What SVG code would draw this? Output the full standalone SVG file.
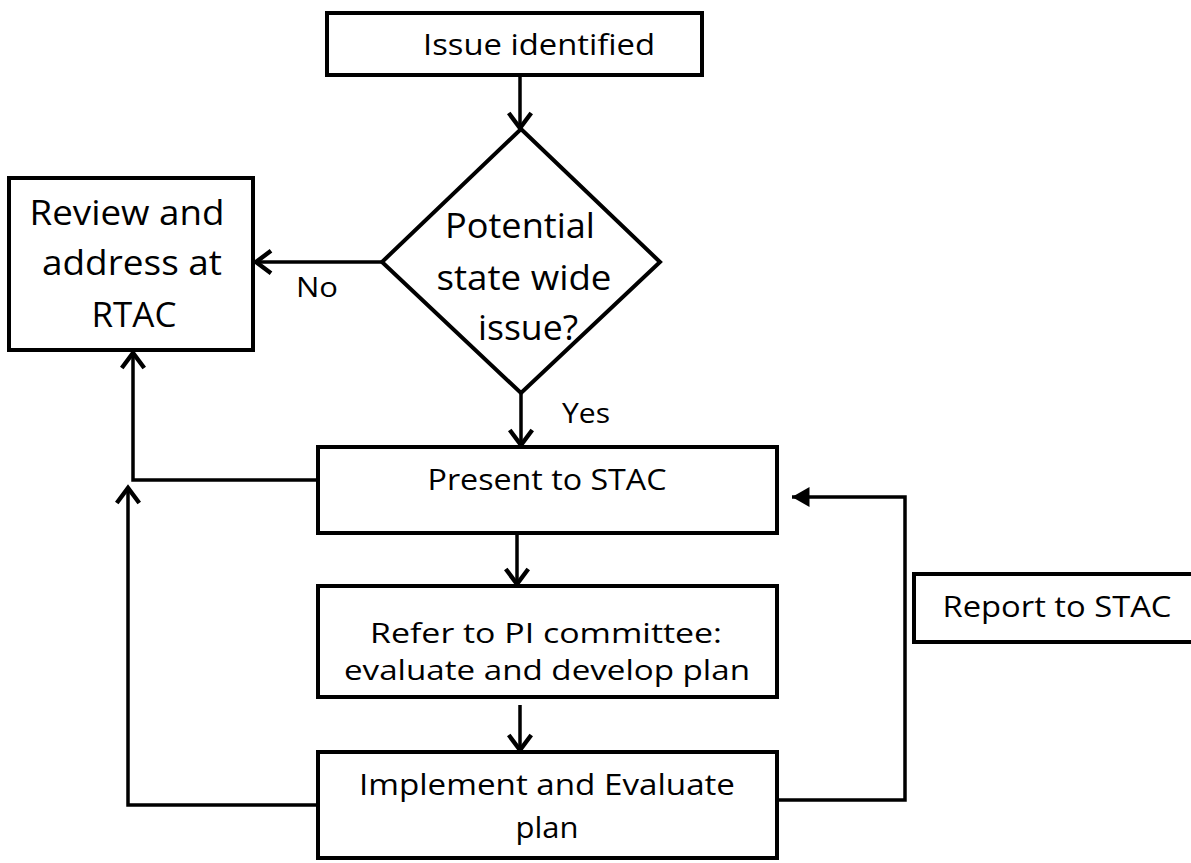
<svg xmlns="http://www.w3.org/2000/svg" width="1191" height="863" viewBox="0 0 1191 863">
<style>
.box{fill:#fff;stroke:#000;stroke-width:4}
.t{font-family:"Open Sans","Noto Sans","Liberation Sans",sans-serif;fill:#000;text-anchor:middle}
.c{fill:none;stroke:#000;stroke-width:3.5;stroke-linejoin:miter}
</style>
<defs>
<marker id="open" markerUnits="userSpaceOnUse" markerWidth="30" markerHeight="30" viewBox="-16 -12 20 24" refX="0" refY="0" orient="auto">
<path d="M -12 -9 L 0 0 L -12 9" fill="none" stroke="#000" stroke-width="3.5"/>
</marker>
<marker id="solid" markerUnits="userSpaceOnUse" markerWidth="30" markerHeight="30" viewBox="-16 -12 20 24" refX="0" refY="0" orient="auto">
<path d="M -14 -8 L 0 0 L -14 8 Z" fill="#000"/>
</marker>
</defs>
<rect width="1191" height="863" fill="#fff"/>
<g id="connectors">
<line class="c" x1="520" y1="75" x2="520" y2="128" marker-end="url(#open)"/>
<line class="c" x1="521" y1="393" x2="521" y2="445" marker-end="url(#open)"/>
<line class="c" x1="517" y1="535" x2="517" y2="584" marker-end="url(#open)"/>
<line class="c" x1="520" y1="705" x2="520" y2="750" marker-end="url(#open)"/>
<line class="c" x1="382" y1="262" x2="256" y2="262" marker-end="url(#open)"/>
<polyline class="c" points="318,480 133,480 133,353" marker-end="url(#open)"/>
<polyline class="c" points="318,805 128,805 128,488" marker-end="url(#open)"/>
<polyline class="c" points="777,800 905,800 905,497 792,497" marker-end="url(#solid)"/>
<text class="t" x="317" y="297" font-size="28" textLength="42" lengthAdjust="spacingAndGlyphs">No</text>
<text class="t" x="586" y="423" font-size="28" textLength="48" lengthAdjust="spacingAndGlyphs">Yes</text>
</g>
<g id="issue">
<rect class="box" x="327" y="13" width="375" height="62"/>
<text class="t" x="539" y="55" font-size="30" textLength="232" lengthAdjust="spacingAndGlyphs">Issue identified</text>
</g>
<g id="decision">
<polygon class="box" points="521,129 660,262 521,393 382,262"/>
<text class="t" x="520" y="238" font-size="34" textLength="150" lengthAdjust="spacingAndGlyphs">Potential</text>
<text class="t" x="524" y="290" font-size="34" textLength="175" lengthAdjust="spacingAndGlyphs">state wide</text>
<text class="t" x="528" y="340" font-size="34" textLength="100" lengthAdjust="spacingAndGlyphs">issue?</text>
</g>
<g id="review">
<rect class="box" x="9" y="178" width="244" height="172"/>
<text class="t" x="127" y="225" font-size="34" textLength="195" lengthAdjust="spacingAndGlyphs">Review and</text>
<text class="t" x="132" y="275" font-size="34" textLength="180" lengthAdjust="spacingAndGlyphs">address at</text>
<text class="t" x="134" y="327" font-size="34" textLength="85" lengthAdjust="spacingAndGlyphs">RTAC</text>
</g>
<g id="present">
<rect class="box" x="318" y="447" width="459" height="86"/>
<text class="t" x="547" y="490" font-size="30" textLength="239" lengthAdjust="spacingAndGlyphs">Present to STAC</text>
</g>
<g id="refer">
<rect class="box" x="318" y="586" width="459" height="111"/>
<text class="t" x="546" y="643" font-size="28" textLength="352" lengthAdjust="spacingAndGlyphs">Refer to PI committee:</text>
<text class="t" x="547" y="680" font-size="28" textLength="406" lengthAdjust="spacingAndGlyphs">evaluate and develop plan</text>
</g>
<g id="implement">
<rect class="box" x="318" y="752" width="459" height="106"/>
<text class="t" x="547" y="795" font-size="30" textLength="376" lengthAdjust="spacingAndGlyphs">Implement and Evaluate</text>
<text class="t" x="547" y="838" font-size="30" textLength="63" lengthAdjust="spacingAndGlyphs">plan</text>
</g>
<g id="report">
<rect class="box" x="914" y="574" width="290" height="68"/>
<text class="t" x="1057" y="617" font-size="30" textLength="229" lengthAdjust="spacingAndGlyphs">Report to STAC</text>
</g>
</svg>
